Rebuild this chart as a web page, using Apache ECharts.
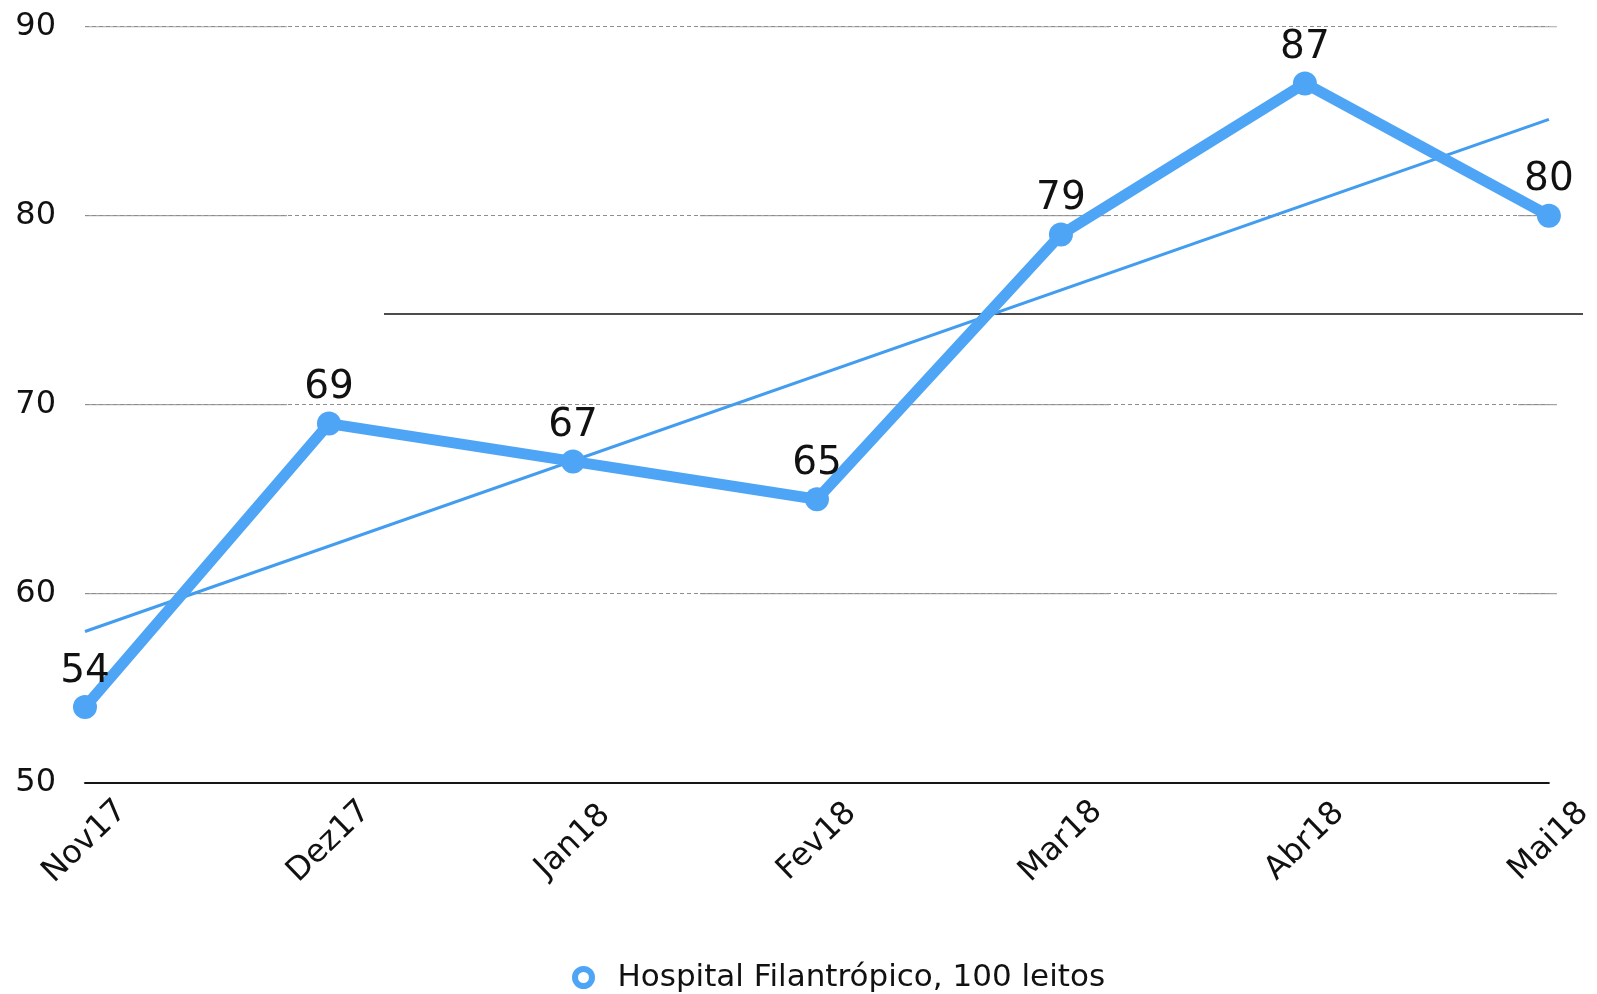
<!DOCTYPE html>
<html>
<head>
<meta charset="utf-8">
<title>Hospital Filantrópico, 100 leitos</title>
<script src="https://cdn.jsdelivr.net/npm/echarts@6/dist/echarts.min.js"></script>
<style>
  html, body { margin: 0; padding: 0; background: #ffffff; }
  #chart { width: 1597px; height: 994px; }
</style>
</head>
<body>
<div id="chart"></div>
<script>
// ---- data ----
const months = ['Nov17', 'Dez17', 'Jan18', 'Fev18', 'Mar18', 'Abr18', 'Mai18'];
const ocupacao = [54, 69, 67, 65, 79, 87, 80];
const tendencia = [58.0, 85.1];          // trend line value at first and last month
const meta = 74.8;                        // horizontal reference line
const yTicks = [50, 60, 70, 80, 90];
const seriesName = 'Hospital Filantrópico, 100 leitos';

// ---- styling ----
const FONT = 'DejaVu Sans';
const BLUE = '#4fa5f5';
const TREND_BLUE = '#429cef';
const GRID_GRAY = '#8e8e8e';
const TEXT = '#111111';

// helper grid is a bit wider than the plot so the reference line can run past it;
// spans below are fractions of that helper width
const solidParts = [[0, 0.1349], [0.4105, 0.6836], [0.9566, 0.9826]];
const metaSpan = [0.1996, 1.0];

const trendData = months.map((m, i) =>
  i === 0 ? tendencia[0] : (i === months.length - 1 ? tendencia[1] : '-'));

const series = [];

// solid gridline pieces
yTicks.slice(1).forEach(v => {
  solidParts.forEach(p => {
    series.push({
      type: 'line', xAxisIndex: 1, yAxisIndex: 1,
      data: [[p[0], v], [p[1], v]],
      symbol: 'none', silent: true, z: 1,
      lineStyle: { color: GRID_GRAY, width: 1, type: 'solid' }
    });
  });
});

// reference line
series.push({
  type: 'line', xAxisIndex: 1, yAxisIndex: 1,
  data: [[metaSpan[0], meta], [metaSpan[1], meta]],
  symbol: 'none', silent: true, z: 2,
  lineStyle: { color: '#111111', width: 1.6 }
});

// linear trend
series.push({
  type: 'line', xAxisIndex: 0, yAxisIndex: 0,
  data: trendData, connectNulls: true,
  symbol: 'none', silent: true, z: 3,
  lineStyle: { color: TREND_BLUE, width: 3 }
});

// main series
series.push({
  name: seriesName,
  type: 'line', xAxisIndex: 0, yAxisIndex: 0,
  data: ocupacao,
  symbol: 'circle', symbolSize: 24, showSymbol: true, z: 5,
  lineStyle: { color: BLUE, width: 11 },
  itemStyle: { color: BLUE, borderWidth: 0 },
  label: {
    show: true, position: 'top', distance: 4,
    fontFamily: FONT, fontSize: 39, color: TEXT
  }
});

const plotTop = 26.7, plotBottom = 211.3;

const chart = echarts.init(document.getElementById('chart'), null, { renderer: 'canvas' });
chart.setOption({
  animation: false,
  backgroundColor: '#ffffff',
  textStyle: { fontFamily: FONT },
  grid: [
    { left: 85, right: 41, top: plotTop, bottom: plotBottom },
    { left: 85, right: 14, top: plotTop, bottom: plotBottom }
  ],
  legend: {
    data: [seriesName],
    left: 567, top: 957,
    icon: 'circle',
    itemWidth: 58, itemHeight: 17,
    itemStyle: { color: '#ffffff', borderColor: BLUE, borderWidth: 6 },
    textStyle: { fontFamily: FONT, fontSize: 31, color: TEXT },
    selectedMode: false
  },
  xAxis: [
    {
      type: 'category', data: months, boundaryGap: false, gridIndex: 0,
      axisLine: { show: true, lineStyle: { color: '#151515', width: 2 } },
      axisTick: { show: false },
      axisLabel: {
        rotate: 44, align: 'center', verticalAlign: 'middle', margin: 59,
        fontFamily: FONT, fontSize: 32, color: TEXT
      },
      splitLine: { show: false }
    },
    { type: 'value', gridIndex: 1, min: 0, max: 1, show: false, splitLine: { show: false } }
  ],
  yAxis: [
    {
      type: 'value', gridIndex: 0,
      min: yTicks[0], max: yTicks[yTicks.length - 1], interval: 10,
      axisLine: { show: false }, axisTick: { show: false },
      axisLabel: { margin: 29, fontFamily: FONT, fontSize: 32, color: TEXT },
      splitLine: { show: true, lineStyle: { color: GRID_GRAY, width: 1, type: [4, 3] } }
    },
    {
      type: 'value', gridIndex: 1,
      min: yTicks[0], max: yTicks[yTicks.length - 1], interval: 10,
      show: false, splitLine: { show: false }
    }
  ],
  series: series
});
</script>
</body>
</html>
